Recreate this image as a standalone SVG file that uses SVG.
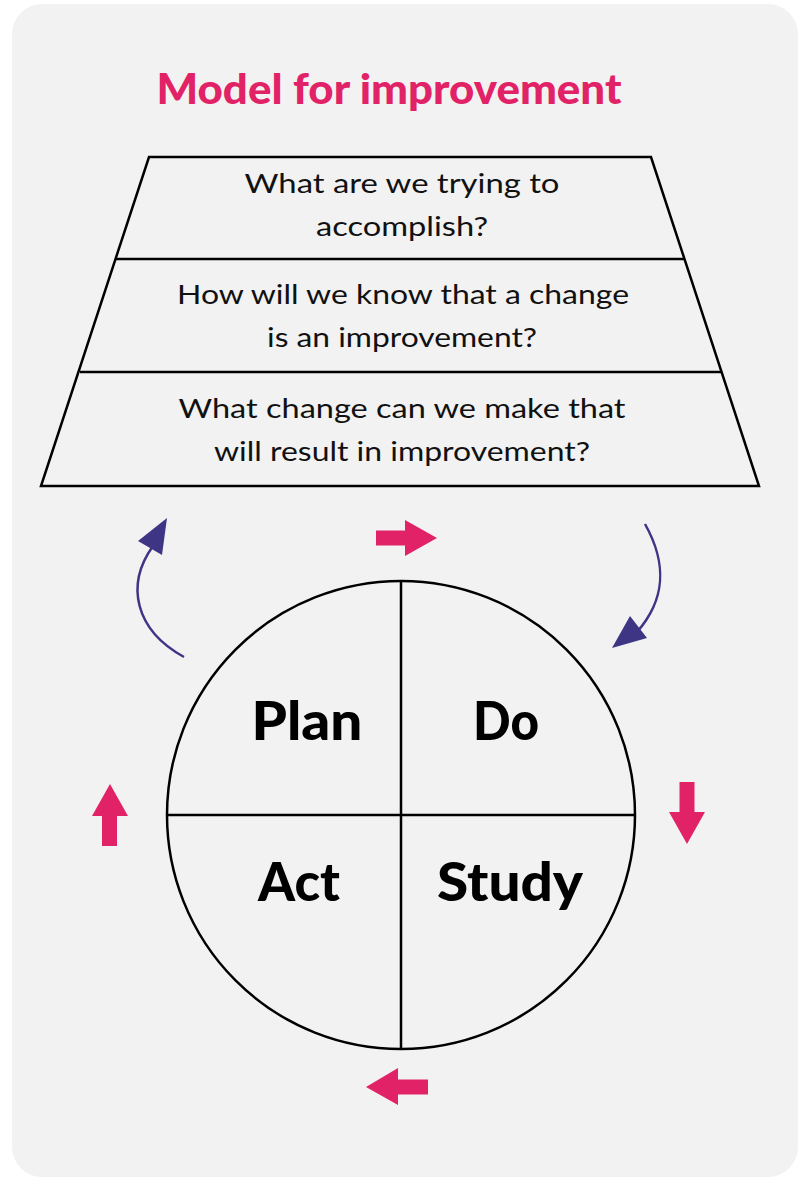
<svg xmlns="http://www.w3.org/2000/svg" width="801" height="1178" viewBox="0 0 801 1178">
<style>
.q{font-family:Lato,"Liberation Sans",sans-serif;font-size:27.5px;fill:#111;text-anchor:middle}
.lbl{font-family:Lato,"Liberation Sans",sans-serif;font-weight:900;font-size:54px;fill:#000;text-anchor:middle}
.ln{fill:none;stroke:#000;stroke-width:2.5}
.pink{fill:#e22266}
.pc{fill:none;stroke:#3f3585;stroke-width:2.5}
.ph{fill:#3f3585}
</style>
<rect id="bg" x="12" y="4" width="786" height="1173" rx="30" fill="#f2f2f2"/>
<g id="title"><text x="389" y="104" font-family="Lato,'Liberation Sans',sans-serif" font-weight="900" font-size="42" fill="#e22266" text-anchor="middle" textLength="465" lengthAdjust="spacingAndGlyphs">Model for improvement</text></g>
<g id="trapezoid">
<polygon class="ln" points="149,157 651,157 759,486 41,486"/>
<line class="ln" x1="116" y1="259" x2="684" y2="259"/>
<line class="ln" x1="80" y1="372" x2="721" y2="372"/>
</g>
<g id="q1">
<text class="q" x="402" y="193" textLength="315" lengthAdjust="spacingAndGlyphs">What are we trying to</text>
<text class="q" x="402" y="236" textLength="172" lengthAdjust="spacingAndGlyphs">accomplish?</text>
</g>
<g id="q2">
<text class="q" x="403" y="304" textLength="452" lengthAdjust="spacingAndGlyphs">How will we know that a change</text>
<text class="q" x="402" y="347" textLength="270" lengthAdjust="spacingAndGlyphs">is an improvement?</text>
</g>
<g id="q3">
<text class="q" x="402" y="418" textLength="447" lengthAdjust="spacingAndGlyphs">What change can we make that</text>
<text class="q" x="402" y="461" textLength="376" lengthAdjust="spacingAndGlyphs">will result in improvement?</text>
</g>
<g id="cycle">
<circle class="ln" cx="401" cy="815" r="234"/>
<line class="ln" x1="401" y1="581" x2="401" y2="1049"/>
<line class="ln" x1="167" y1="815" x2="635" y2="815"/>
</g>
<g id="plan"><text class="lbl" x="307" y="740" textLength="111" lengthAdjust="spacingAndGlyphs">Plan</text></g>
<g id="do"><text class="lbl" x="506" y="740" textLength="66" lengthAdjust="spacingAndGlyphs">Do</text></g>
<g id="act"><text class="lbl" x="299" y="901" textLength="82" lengthAdjust="spacingAndGlyphs">Act</text></g>
<g id="study"><text class="lbl" x="510" y="901" textLength="146" lengthAdjust="spacingAndGlyphs">Study</text></g>
<g id="connectors">
<polygon class="pink" points="376,530.5 405,530.5 405,520 437,538 405,556 405,545.5 376,545.5"/>
<polygon class="pink" points="679.5,782 694.5,782 694.5,812 705,812 687,844 669,812 679.5,812"/>
<polygon class="pink" points="428,1079.5 398,1079.5 398,1068 366,1087 398,1105 398,1094.5 428,1094.5"/>
<polygon class="pink" points="102,846 117,846 117,816 128,816 110,784 92,816 102,816"/>
<path class="pc" d="M184,657 C135,630 125,585 153,546"/>
<polygon class="ph" points="167,518 138,541 162,555"/>
<path class="pc" d="M645,524 C668,565 665,600 637,632"/>
<polygon class="ph" points="630,616 612,648 647,638"/>
</g>
</svg>
